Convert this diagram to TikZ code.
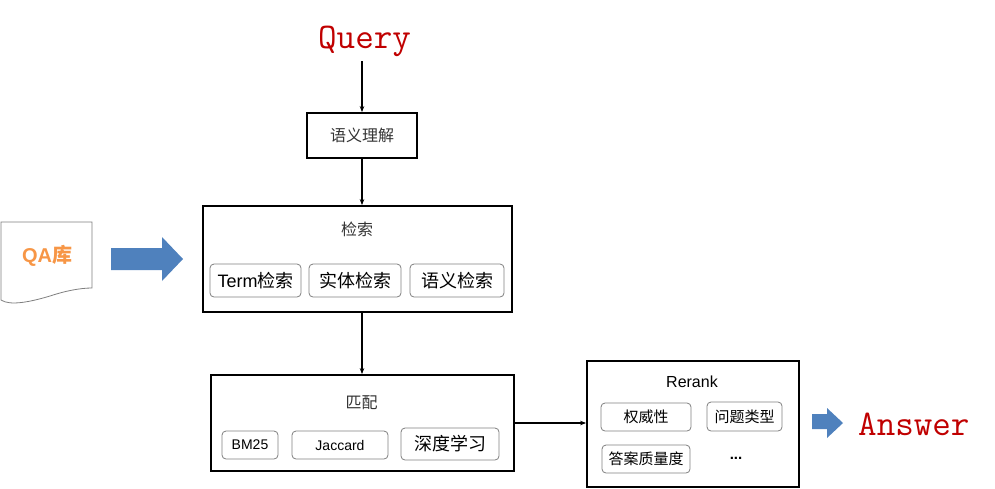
\documentclass[tikz,border=0pt]{standalone}
\usepackage{fontspec}
\setmainfont{Liberation Sans}
\newfontfamily\cjk{Noto Sans CJK SC}
\usetikzlibrary{arrows.meta}
\definecolor{qred}{HTML}{C00000}
\definecolor{qblue}{HTML}{4F81BD}
\definecolor{qorange}{HTML}{F79646}
\definecolor{subgray}{HTML}{7F7F7F}
\begin{document}
\begin{tikzpicture}[x=1pt,y=-1pt,
  mainbox/.style={draw=black, line width=1.8pt, inner sep=0pt},
  subbox/.style={draw=subgray, line width=0.8pt, rounded corners=4pt, inner sep=0pt, font=\fontsize{15}{15}\selectfont},
  titletext/.style={inner sep=0pt, font=\cjk\fontsize{16}{16}\selectfont, text=black!80},
  bigtext/.style={inner sep=0pt, text=qred, font=\ttfamily\fontsize{36}{36}\selectfont},
  conn/.style={line width=1.1pt, -{Stealth[length=6pt,width=4.5pt]}},
  blockarrow/.style={fill=qblue, draw=none}
]
\useasboundingbox (0,0) rectangle (995,488);

% Query
\node[bigtext, anchor=base west] (query) at (318,48) {Query};
% 语义理解
\node[mainbox, minimum width=110pt, minimum height=45pt, font=\cjk\fontsize{16}{16}\selectfont, text=black!80] (yili) at (362,135.5) {语义理解};

% 检索
\node[mainbox, minimum width=309pt, minimum height=106pt] (jiansuo) at (357.5,259) {};
\node[titletext] (jstitle) at (357,229) {检索};
\node[subbox, minimum width=91pt, minimum height=33pt, font=\fontsize{18}{18}\selectfont] (term) at (255.5,280.5) {Term{\cjk 检索}};
\node[subbox, minimum width=92pt, minimum height=33pt, font=\cjk\fontsize{18}{18}\selectfont] (shiti) at (355,280.5) {实体检索};
\node[subbox, minimum width=94pt, minimum height=33pt, font=\cjk\fontsize{18}{18}\selectfont] (yuyi) at (457,280.5) {语义检索};

% QA库
\draw[draw=subgray, line width=0.8pt, fill=white]
  (1,222) -- (92,222) -- (92,288)
  .. controls (80,288) and (65,291) .. (50,296)
  .. controls (30,302) and (10,306) .. (1,300) -- cycle;
\node[inner sep=0pt, text=qorange, font=\bfseries\fontsize{20}{20}\selectfont] (qa) at (47,256) {QA{\cjk\bfseries 库}};
\fill[blockarrow] (111,248) -- (162,248) -- (162,237) -- (183,259) -- (162,281) -- (162,270) -- (111,270) -- cycle;

% 匹配
\node[mainbox, minimum width=303pt, minimum height=96pt] (pipei) at (362.5,423) {};
\node[titletext] (pptitle) at (361.5,403) {匹配};
\node[subbox, minimum width=56pt, minimum height=28pt, font=\fontsize{14}{14}\selectfont] (bm) at (250,445) {BM25};
\node[subbox, minimum width=96pt, minimum height=28pt, font=\fontsize{14}{14}\selectfont] (jac) at (340,445) {Jaccard};
\node[subbox, minimum width=98pt, minimum height=32pt, font=\cjk\fontsize{18}{18}\selectfont] (sd) at (450,444) {深度学习};

% Rerank
\node[mainbox, minimum width=212pt, minimum height=126pt] (rerank) at (693,424) {};
\node[inner sep=0pt, font=\fontsize{16}{16}\selectfont] (rrtitle) at (692,382) {Rerank};
\node[subbox, minimum width=90pt, minimum height=28pt, font=\cjk\fontsize{15}{15}\selectfont] (qw) at (646,417) {权威性};
\node[subbox, minimum width=75pt, minimum height=29pt, font=\cjk\fontsize{15}{15}\selectfont] (wt) at (744.5,416.5) {问题类型};
\node[subbox, minimum width=88pt, minimum height=28pt, font=\cjk\fontsize{15}{15}\selectfont] (da) at (646,459) {答案质量度};
\node[inner sep=0pt, font=\fontsize{15}{15}\selectfont] (dots) at (736,458) {\textbf{...}};

% Answer
\fill[blockarrow] (812,414) -- (827,414) -- (827,408) -- (843,423) -- (827,438) -- (827,429) -- (812,429) -- cycle;
\node[bigtext, anchor=base west] (answer) at (858,435) {Answer};

% connectors
\draw[conn, shorten <=5pt] (query.south -| yili.north) -- (yili.north);
\draw[conn] (yili.south) -- (yili.south |- jiansuo.north);
\draw[conn] (jiansuo.south -| yili.south) -- (yili.south |- pipei.north);
\draw[conn] (pipei.east |- 0,423) -- (rerank.west |- 0,423);
\end{tikzpicture}
\end{document}
